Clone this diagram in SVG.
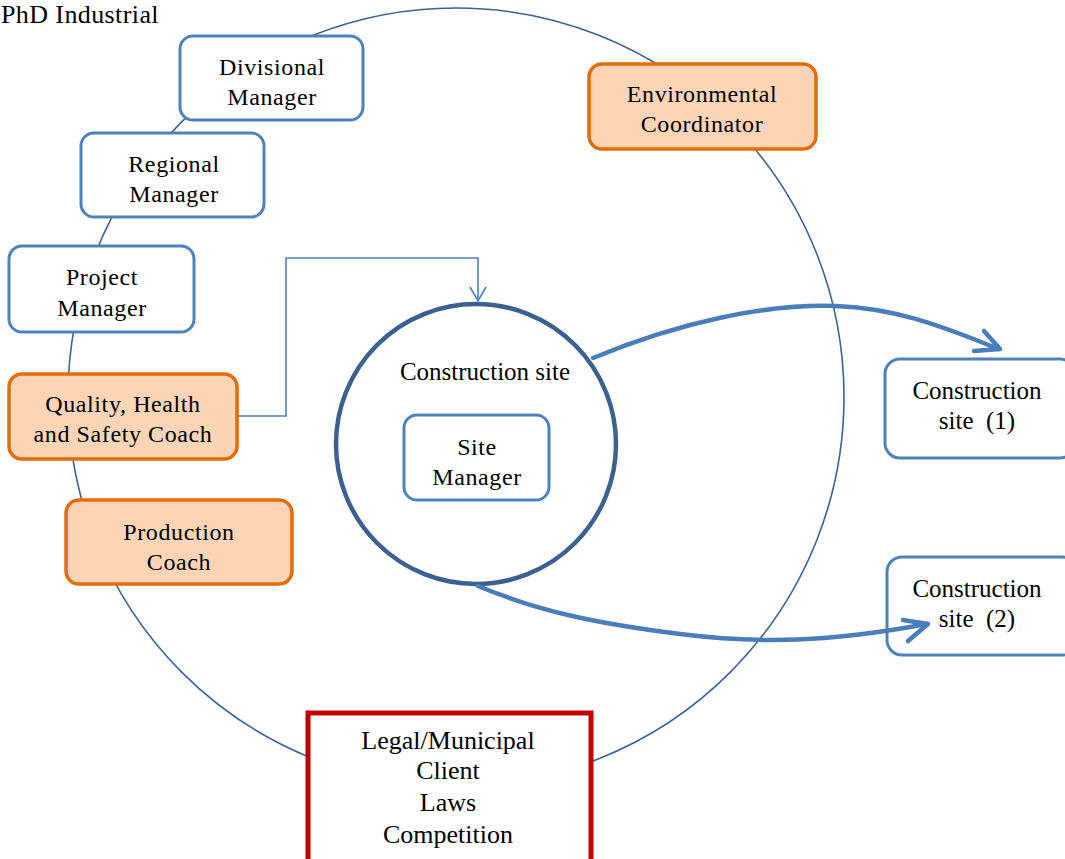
<svg xmlns="http://www.w3.org/2000/svg" width="1065" height="859" viewBox="0 0 1065 859">
  <defs>
    <style>
      .lbl { font-family: "Liberation Serif", "Times New Roman", serif; font-size: 24px; fill: #000; text-anchor: middle; letter-spacing: 0.6px; }
      .title { font-family: "Liberation Serif", "Times New Roman", serif; font-size: 26px; fill: #000; letter-spacing: 0.4px; }
      .big { font-size: 25px; letter-spacing: 0; }
      .ext { font-size: 26px; letter-spacing: 0; }
      .blue { fill: #ffffff; stroke: #4f81bd; stroke-width: 3; }
      .orange { fill: #fbd5b5; stroke: #e46c0a; stroke-width: 3.5; }
      .red { fill: #ffffff; stroke: #c00000; stroke-width: 5; }
      .ring { fill: none; stroke: #3b6394; stroke-width: 1.6; }
      .site { fill: #ffffff; stroke: #3c6091; stroke-width: 4.5; }
      .thin { fill: none; stroke: #4f81bd; stroke-width: 1.6; }
      .thick { fill: none; stroke: #4a7ebb; stroke-width: 4.5; stroke-linecap: round; stroke-linejoin: round; }
    </style>
    <marker id="openThin" markerWidth="20" markerHeight="20" refX="15" refY="9" orient="auto" markerUnits="userSpaceOnUse">
      <path d="M1,1 L15,9 L1,17" fill="none" stroke="#4f81bd" stroke-width="1.6"/>
    </marker>
  </defs>

  <!-- title -->
  <text class="title" x="1" y="23">PhD Industrial</text>

  <!-- outer organisation ring -->
  <ellipse class="ring" cx="456" cy="397" rx="388" ry="389"/>

  <g id="construction-site">
    <circle class="site" cx="476" cy="444" r="140"/>
    <text class="lbl big" x="485" y="380">Construction site</text>
  </g>

  <g id="site-manager">
    <rect class="blue" x="404" y="415" width="145" height="85" rx="13"/>
    <text class="lbl" x="477" y="455">Site</text>
    <text class="lbl" x="477" y="485">Manager</text>
  </g>

  <g id="divisional-manager">
    <rect class="blue" x="180" y="36" width="183" height="84" rx="13"/>
    <text class="lbl" x="272" y="75">Divisional</text>
    <text class="lbl" x="272" y="105">Manager</text>
  </g>

  <g id="regional-manager">
    <rect class="blue" x="81" y="133" width="183" height="84" rx="13"/>
    <text class="lbl" x="174" y="172">Regional</text>
    <text class="lbl" x="174" y="202">Manager</text>
  </g>

  <g id="project-manager">
    <rect class="blue" x="9" y="246" width="185" height="86" rx="13"/>
    <text class="lbl" x="102" y="285">Project</text>
    <text class="lbl" x="102" y="316">Manager</text>
  </g>

  <g id="qhs-coach">
    <rect class="orange" x="9" y="374" width="228" height="85" rx="13"/>
    <text class="lbl" x="123" y="412">Quality, Health</text>
    <text class="lbl" x="123" y="442">and Safety Coach</text>
  </g>

  <g id="production-coach">
    <rect class="orange" x="66" y="500" width="226" height="84" rx="13"/>
    <text class="lbl" x="179" y="540">Production</text>
    <text class="lbl" x="179" y="570">Coach</text>
  </g>

  <g id="environmental-coordinator">
    <rect class="orange" x="589" y="64" width="227" height="85" rx="13"/>
    <text class="lbl" x="702" y="102">Environmental</text>
    <text class="lbl" x="702" y="132">Coordinator</text>
  </g>

  <g id="construction-site-1">
    <rect class="blue" x="885" y="359" width="190" height="99" rx="15"/>
    <text class="lbl big" x="977" y="399">Construction</text>
    <text class="lbl big" x="977" y="429">site &#160;(1)</text>
  </g>

  <g id="construction-site-2">
    <rect class="blue" x="887" y="557" width="190" height="98" rx="15"/>
    <text class="lbl big" x="977" y="597">Construction</text>
    <text class="lbl big" x="977" y="627">site &#160;(2)</text>
  </g>

  <g id="external-factors">
    <rect class="red" x="308" y="713" width="283" height="160"/>
    <text class="lbl ext" x="448" y="749">Legal/Municipal</text>
    <text class="lbl ext" x="448" y="779">Client</text>
    <text class="lbl ext" x="448" y="811">Laws</text>
    <text class="lbl ext" x="448" y="843">Competition</text>
  </g>

  <!-- connectors, drawn last so arrowheads sit over the boxes -->
  <g id="connectors">
    <path class="thin" d="M237,416 H286 V258 H478 V301" marker-end="url(#openThin)"/>
    <path class="thick" d="M593,358 C680,322 765,304 835,306 C900,308 950,330 999,349"/>
    <path class="thick" d="M974,351 L1000,349 L984,331"/>
    <path class="thick" d="M478,586 C540,612 600,624 680,634 C760,644 830,642 927,624"/>
    <path class="thick" d="M903,620 L928,624 L908,641"/>
  </g>
</svg>
